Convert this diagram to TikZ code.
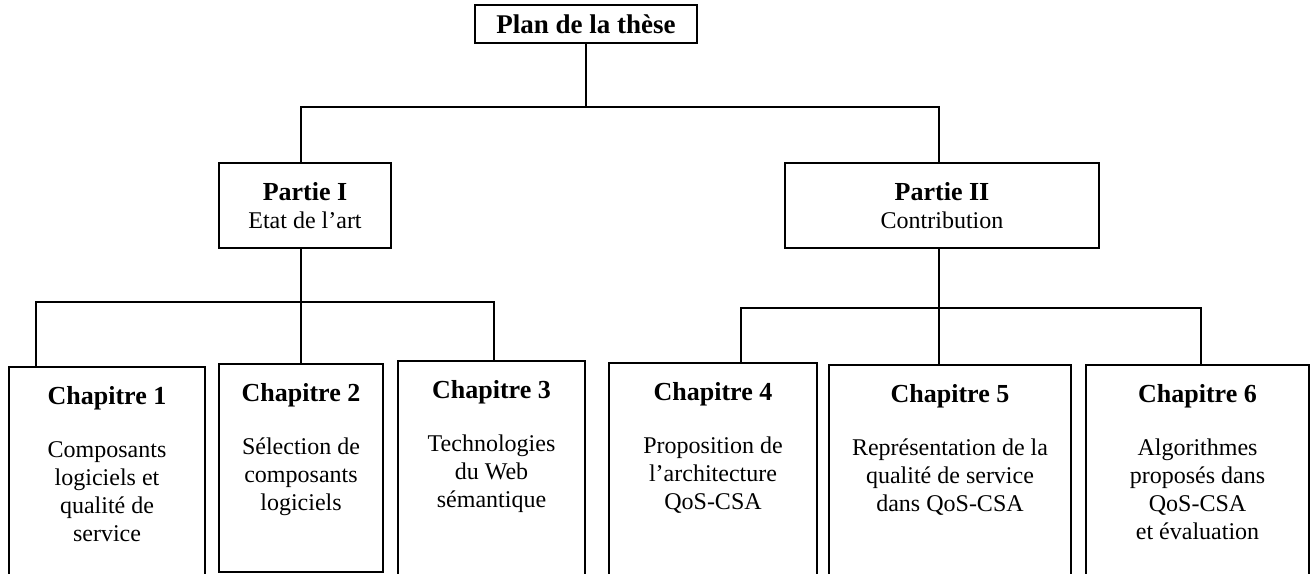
\documentclass[tikz,border=0pt]{standalone}
\usepackage{fontspec}
\setmainfont{Liberation Serif}
\usetikzlibrary{calc}
\tikzset{
  box/.style={draw, line width=1.7pt, rectangle, inner sep=0pt, outer sep=0pt},
  chapbox/.style={box, anchor=north west},
  link/.style={line width=1.7pt},
  titlefont/.style={font=\bfseries\fontsize{26}{28}\selectfont, inner sep=0pt},
  desc/.style={font=\fontsize{24}{28}\selectfont, align=center, inner sep=0pt, anchor=north},
  partbox/.style={box, minimum height=85pt, align=center, font=\fontsize{24}{28}\selectfont},
}
\begin{document}
\begin{tikzpicture}[x=1pt,y=-1pt]
\useasboundingbox (0,0) rectangle (1313,573);

% root
\node[box, minimum width=222pt, minimum height=38pt, font=\bfseries\fontsize{27}{28}\selectfont] (plan) at (586,24) {Plan de la thèse};

% parts
\node[partbox, minimum width=172pt] (p1) at (305,205.5)
  {{\bfseries\fontsize{26}{28}\selectfont Partie I}\\Etat de l’art};
\node[partbox, minimum width=314pt] (p2) at (942,205.5)
  {{\bfseries\fontsize{26}{28}\selectfont Partie II}\\Contribution};

% chapters (open at the bottom edge of the page, except chapter 2)
\node[chapbox, minimum width=196pt, minimum height=240pt] (c1) at (9,367) {};
\node[chapbox, minimum width=164pt, minimum height=208pt] (c2) at (219,364) {};
\node[chapbox, minimum width=187pt, minimum height=240pt] (c3) at (398,361) {};
\node[chapbox, minimum width=208pt, minimum height=240pt] (c4) at (609,363) {};
\node[chapbox, minimum width=242pt, minimum height=240pt] (c5) at (829,365) {};
\node[chapbox, minimum width=223pt, minimum height=240pt] (c6) at (1086,365) {};

% chapter titles
\foreach \c/\n in {c1/1, c2/2, c3/3, c4/4, c5/5, c6/6}
  \node[titlefont, anchor=base] (t\n) at ($(\c.north)+(0,37)$) {Chapitre \n};

% chapter descriptions
\node[desc] (d1) at ($(c1.north)+(0,74)$) {Composants\\logiciels et\\qualité de\\service};
\node[desc] (d2) at ($(c2.north)+(0,74)$) {Sélection de\\composants\\logiciels};
\node[desc] (d3) at ($(c3.north)+(0,74)$) {Technologies\\du Web\\sémantique};
\node[desc] (d4) at ($(c4.north)+(0,74)$) {Proposition de\\l’architecture\\QoS-CSA};
\node[desc] (d5) at ($(c5.north)+(0,74)$) {Représentation de la\\qualité de service\\dans QoS-CSA};
\node[desc] (d6) at ($(c6.north)+(0,74)$) {Algorithmes\\proposés dans\\QoS-CSA\\et évaluation};

% root to parts
\coordinate (j0) at ($(plan.south)+(0,64)$);
\draw[link] (plan.south) -- (j0);
\draw[link] ([xshift=-4pt]p1.north) |- (j0) -| ([xshift=-3pt]p2.north);

% part I to chapters 1-3
\coordinate (j1) at ($([xshift=-4pt]p1.south)+(0,54)$);
\draw[link] ([xshift=-4pt]p1.south) -- (c2.north);
\draw[link] ([xshift=-71pt]c1.north) |- (j1) -| ([xshift=2.5pt]c3.north);

% part II to chapters 4-6
\coordinate (j2) at ($([xshift=-3pt]p2.south)+(0,60)$);
\draw[link] ([xshift=-3pt]p2.south) -- ([xshift=-11pt]c5.north);
\draw[link] ([xshift=28pt]c4.north) |- (j2) -| ([xshift=3.5pt]c6.north);
\end{tikzpicture}
\end{document}
